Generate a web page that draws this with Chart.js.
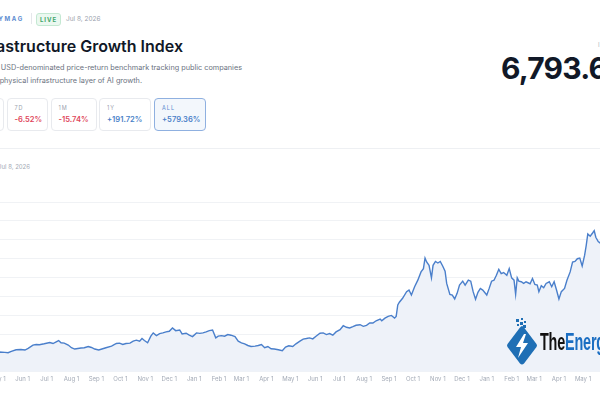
<!DOCTYPE html>
<html>
<head>
<meta charset="utf-8">
<script src="https://cdn.jsdelivr.net/npm/chart.js@4.4.1/dist/chart.umd.min.js"></script>
<style>
  html, body { margin: 0; padding: 0; }
  body { width: 600px; height: 400px; overflow: hidden; position: relative; background: #fff; font-family: Inter, "Noto Sans", sans-serif; }
  .abs { position: absolute; white-space: nowrap; }
  .brand { right: 576px; top: 15px; font-size: 6px; font-weight: 700; letter-spacing: 1.7px; color: #5b8bd0; }
  .divider { left: 31px; top: 13px; width: 1px; height: 11px; background: #e5e7eb; }
  .live { left: 36px; top: 13px; width: 23px; height: 11px; border: 1px solid #c4e8d2; background: #ebf8f0; border-radius: 3px;
          font-size: 6px; font-weight: 700; letter-spacing: 1px; color: #3ea66a; text-align: center; line-height: 11px; }
  .date { left: 66px; top: 15px; font-size: 6.5px; color: #9aa1ad; }
  .title { right: 417px; top: 36px; font-size: 16px; font-weight: 600; color: #111827; line-height: 20px; }
  .sub { font-size: 7.3px; color: #6b7280; line-height: 9px; }
  .box { top: 98px; height: 31px; border: 1px solid #e8eaee; border-radius: 4px; box-sizing: content-box; }
  .box .k { position: absolute; left: 7px; top: 6px; font-size: 5.5px; letter-spacing: 1px; color: #9ca3af; }
  .box .v { position: absolute; left: 7px; top: 16px; font-size: 7.6px; font-weight: 600; }
  .neg { color: #e0475b; }
  .pos { color: #4a7fc8; }
  .box.sel { border-color: #8fb0e0; background: #f3f7fc; border-width: 1.5px; }
  .big { left: 501px; top: 51px; font-size: 30px; font-weight: 700; color: #111827; letter-spacing: -0.8px; line-height: 34px; }
  .lvl { left: 598px; top: 41px; font-size: 6px; color: #b0b6c0; letter-spacing: 1px; }
  .sep { left: 0; top: 148px; width: 600px; height: 1px; background: #eef0f3; }
  .range { right: 570px; top: 163px; font-size: 6px; color: #a3a9b5; }
  #wrap { position: absolute; left: -40px; top: 202px; width: 720px; height: 185px; }
  .mark { left: 505px; top: 318px; }
  .mark-text { left: 540px; top: 329px; font-family: "Liberation Sans Narrow", "Liberation Sans", sans-serif; font-size: 24px; font-weight: 700;
               transform: scaleX(0.6); transform-origin: left top; line-height: 26px; letter-spacing: -0.3px; }
</style>
</head>
<body>
<div class="abs brand">ENERGYMAG</div>
<div class="abs divider"></div>
<div class="abs live">LIVE</div>
<div class="abs date">Jul 8, 2026</div>
<div class="abs title">AI Infrastructure Growth Index</div>
<div class="abs sub" style="right:358px; top:63px;">A market-cap-weighted, USD-denominated price-return benchmark tracking public companies</div>
<div class="abs sub" style="right:458px; top:76px;">that make up the physical infrastructure layer of AI growth.</div>

<div class="abs box" style="left:-40px; width:42px;"><span class="k">1D</span><span class="v neg">-1.08%</span></div>
<div class="abs box" style="left:6.5px; width:39px;"><span class="k">7D</span><span class="v neg">-6.52%</span></div>
<div class="abs box" style="left:50.5px; width:44px;"><span class="k">1M</span><span class="v neg">-15.74%</span></div>
<div class="abs box" style="left:99px; width:50px;"><span class="k">1Y</span><span class="v pos">+191.72%</span></div>
<div class="abs box sel" style="left:154px; width:50px;"><span class="k" style="color:#5b8bd0">ALL</span><span class="v pos">+579.36%</span></div>

<div class="abs lvl">INDEX LEVEL</div>
<div class="abs big">6,793.64</div>
<div class="abs sep"></div>
<div class="abs range">Apr 30, 2024 – Jul 8, 2026</div>

<div id="wrap"><canvas id="chart"></canvas></div>

<svg class="abs mark" width="34" height="48" viewBox="0 0 34 48">
  <rect x="11" y="1" width="3" height="3" fill="#1f6fb5"/>
  <rect x="16" y="0" width="2" height="2" fill="#1f6fb5"/>
  <rect x="15" y="4" width="3" height="3" fill="#1f6fb5"/>
  <rect x="19" y="3" width="2" height="2" fill="#1f6fb5"/>
  <rect x="12" y="6" width="2" height="2" fill="#1f6fb5"/>
  <rect x="18" y="7" width="3" height="3" fill="#1f6fb5"/>
  <path d="M17 8 Q18 8 19 9.5 L31.5 26 Q32.5 27.5 31.5 29 L19 45.5 Q17 47.5 15 45.5 L2.5 29 Q1.5 27.5 2.5 26 L15 9.5 Q16 8 17 8 Z" fill="#1f6fb5"/>
  <path d="M19 16 L11 29 L16 29 L13 40 L23 25 L18 25 L21 16 Z" fill="#fff"/>
</svg>
<div class="abs mark-text"><span style="color:#111">The</span><span style="color:#1b6ec2">Energy</span></div>

<script>
// daily index level (base 1000)
var dates = ["2024-04-30","2024-05-03","2024-05-10","2024-05-14","2024-05-18","2024-05-24","2024-05-30","2024-06-04","2024-06-08","2024-06-14",
  "2024-06-18","2024-06-22","2024-06-28","2024-07-05","2024-07-09","2024-07-13","2024-07-16","2024-07-19","2024-07-23","2024-07-28",
  "2024-08-01","2024-08-05","2024-08-09","2024-08-13","2024-08-17","2024-08-22","2024-08-26","2024-08-30","2024-09-04","2024-09-09",
  "2024-09-13","2024-09-20","2024-09-26","2024-09-30","2024-10-04","2024-10-08","2024-10-13","2024-10-17","2024-10-21","2024-10-25",
  "2024-10-28","2024-10-31","2024-11-04","2024-11-08","2024-11-11","2024-11-15","2024-11-19","2024-11-23","2024-11-27","2024-12-01",
  "2024-12-05","2024-12-09","2024-12-14","2024-12-17","2024-12-22","2024-12-26","2024-12-30","2025-01-04","2025-01-08","2025-01-12",
  "2025-01-16","2025-01-20","2025-01-24","2025-01-28","2025-01-31","2025-02-04","2025-02-08","2025-02-12","2025-02-16","2025-02-21",
  "2025-02-25","2025-03-01","2025-03-05","2025-03-09","2025-03-13","2025-03-18","2025-03-22","2025-03-26","2025-03-30","2025-04-03",
  "2025-04-07","2025-04-11","2025-04-16","2025-04-21","2025-04-25","2025-04-29","2025-05-04","2025-05-08","2025-05-13","2025-05-17",
  "2025-05-21","2025-05-25","2025-05-29","2025-06-02","2025-06-07","2025-06-11","2025-06-15","2025-06-19","2025-06-23","2025-06-27",
  "2025-07-02","2025-07-06","2025-07-10","2025-07-14","2025-07-18","2025-07-22","2025-07-27","2025-07-31","2025-08-04","2025-08-08",
  "2025-08-12","2025-08-16","2025-08-21","2025-08-23","2025-08-27","2025-08-31","2025-09-04","2025-09-08","2025-09-10","2025-09-12",
  "2025-09-14","2025-09-18","2025-09-23","2025-09-26","2025-09-29","2025-10-03","2025-10-07","2025-10-11","2025-10-14","2025-10-16",
  "2025-10-18","2025-10-21","2025-10-24","2025-10-26","2025-10-29","2025-11-01","2025-11-04","2025-11-07","2025-11-10","2025-11-12",
  "2025-11-16","2025-11-19","2025-11-22","2025-11-25","2025-11-28","2025-12-02","2025-12-05","2025-12-09","2025-12-12","2025-12-15",
  "2025-12-18","2025-12-21","2025-12-24","2025-12-27","2026-01-01","2026-01-04","2026-01-07","2026-01-10","2026-01-13","2026-01-16",
  "2026-01-19","2026-01-22","2026-01-26","2026-01-29","2026-02-01","2026-02-04","2026-02-06","2026-02-08","2026-02-10","2026-02-13",
  "2026-02-16","2026-02-19","2026-02-24","2026-02-27","2026-03-02","2026-03-05","2026-03-07","2026-03-10","2026-03-13","2026-03-16",
  "2026-03-20","2026-03-23","2026-03-26","2026-03-29","2026-04-01","2026-04-04","2026-04-08","2026-04-11","2026-04-15","2026-04-18",
  "2026-04-21","2026-04-24","2026-04-27","2026-04-30","2026-05-03","2026-05-05","2026-05-07","2026-05-10","2026-05-13","2026-05-15",
  "2026-05-17","2026-05-20","2026-05-22","2026-05-26","2026-05-30","2026-06-03","2026-06-08","2026-06-12","2026-06-16","2026-06-20",
  "2026-06-24","2026-06-28","2026-07-01","2026-07-03","2026-07-06","2026-07-08"];

var levels = [1000,1049,1028,1012,1080,1169,1185,1154,1238,1416,
  1447,1432,1484,1552,1500,1589,1657,1536,1521,1416,
  1274,1206,1238,1259,1274,1342,1290,1206,1154,1222,
  1274,1363,1500,1521,1447,1500,1521,1626,1678,1626,
  1762,1657,1536,1888,2061,1919,2024,2061,2113,2150,
  2323,2182,2218,2008,2045,1940,1867,2061,2035,2061,
  2113,2182,2218,1799,1888,1919,1888,1972,1940,1867,
  1626,1536,1484,1395,1342,1363,1395,1447,1274,1342,
  1222,1206,1169,1117,1311,1379,1342,1484,1626,1731,
  1762,1799,1746,1888,2045,2061,1972,2024,1940,2113,
  2234,2444,2360,2323,2391,2465,2496,2412,2465,2585,
  2585,2706,2795,2706,2847,2937,2989,2847,2937,3545,
  3687,3896,4248,4332,4069,4510,4856,5296,5469,6031,
  5821,5643,4982,5643,5852,5768,5852,5611,5328,4683,
  4106,4069,3860,4158,4594,4804,4594,4856,4804,4248,
  3844,4211,4421,4332,4069,4421,4804,4856,5118,5433,
  5207,5260,5118,5469,4982,4856,4106,4982,4804,4772,
  4683,4772,4667,4945,4631,4594,4248,4562,4457,4683,
  4772,4510,4772,4332,3860,4248,4421,4856,5296,5821,
  5852,5994,6031,5611,6167,6691,7305,7184,7357,7478,
  7132,6901,6833,7050,7420,7700,8063,7820,7560,7640,
  7380,7450,7267,7090,6920,6793.6];

var monthNames = ["Jan","Feb","Mar","Apr","May","Jun","Jul","Aug","Sep","Oct","Nov","Dec"];
var firstTick = "2024-05-01", lastTick = "2026-07-01";
var xFrom = "2024-03-15", xTo = "2026-08-30";
var yMax = 9000, yStep = 1000;

function dayNum(s) {
  var p = s.split("-");
  return Date.UTC(+p[0], +p[1] - 1, +p[2]) / 86400000;
}

var points = dates.map(function (d, i) { return { x: dayNum(d), y: levels[i] }; });

// one tick on the 1st of every month
var monthTicks = [];
var t0 = firstTick.split("-"), y0 = +t0[0], m0 = +t0[1] - 1;
while (true) {
  var v = Date.UTC(y0, m0, 1) / 86400000;
  if (v > dayNum(lastTick)) break;
  monthTicks.push(v);
  m0++; if (m0 > 11) { m0 = 0; y0++; }
}

new Chart(document.getElementById("chart"), {
  type: 'line',
  data: {
    datasets: [{
      data: points,
      borderColor: '#4a7fcb',
      borderWidth: 1.4,
      backgroundColor: '#eef2f9',
      fill: 'origin',
      pointRadius: 0,
      tension: 0
    }]
  },
  options: {
    responsive: true,
    maintainAspectRatio: false,
    animation: false,
    layout: { padding: 0 },
    plugins: { legend: { display: false }, tooltip: { enabled: false } },
    scales: {
      x: {
        type: 'linear',
        min: dayNum(xFrom),
        max: dayNum(xTo),
        grid: { display: false, drawTicks: false },
        border: { display: false },
        afterBuildTicks: function (s) { s.ticks = monthTicks.map(function (v) { return { value: v }; }); },
        ticks: {
          autoSkip: false, maxRotation: 0, padding: 4,
          color: '#a3aab6', font: { family: 'Inter', size: 6 },
          callback: function (v) {
            var d = new Date(v * 86400000);
            return monthNames[d.getUTCMonth()] + " 1";
          }
        }
      },
      y: {
        min: 0, max: yMax,
        ticks: { display: false, stepSize: yStep },
        grid: { color: '#f0f2f5', drawTicks: false },
        border: { display: false }
      }
    }
  }
});
</script>
</body>
</html>
